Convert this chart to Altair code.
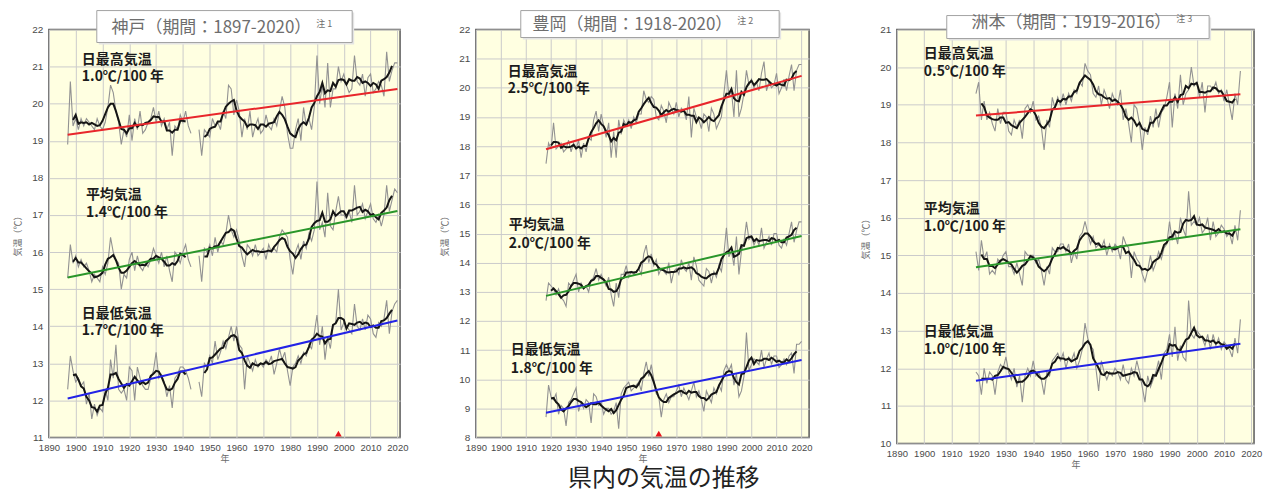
import altair as alt
import pandas as pd

JP = "Noto Sans CJK JP"

# ---------------- data (annual values) ----------------
kobe_start = 1897
kobe_max = [18.9, 20.6, 19.4,
            19.6, 19.3, 19.6, 19.4, 19.6, 19.5, 19.4, 19.3, 19.6, 19.4,
            19.3, 19.5, 19.9, 20.5, 20.3, 19.8, 19.5, 18.9, 19.3, 19.1,
            19.7, 19.0, 19.6, 19.3, 19.8, 19.2, 19.3, 19.5, 19.6, 19.9,
            19.5, 19.8, 19.4, 19.6, 19.3, 19.5, 18.6, 19.4, 19.3, 19.7,
            19.5, 19.8, 19.4, 19.2, None, None, 19.3, 18.6, 19.3, 19.2,
            19.1, 19.6, 19.4, 19.5, 19.3, 19.8, 19.6, 20.5, 20.4, 19.7,
            20.1, 19.8, 19.1, 19.6, 19.3, 19.8, 19.1, 19.4, 19.6, 19.2,
            19.3, 19.7, 19.4, 19.3, 19.6, 19.4, 19.8, 20.2, 19.9, 19.2,
            18.8, 18.8, 19.3, 19.6, 19.0, 19.9, 19.4, 19.6, 19.3, 19.9,
            21.3, 20.0, 20.5, 19.9, 21.1, 19.9, 20.4, 20.4, 21.0, 20.6,
            20.8, 20.5, 20.3, 20.4, 21.3, 20.6, 20.5, 20.8, 20.2, 20.7,
            20.8, 20.3, 20.4, 20.6, 20.5, 20.2, 21.4, 20.6, 20.9, 21.1,
            21.1]
kobe_mean = [15.3, 16.2, 15.7,
             15.9, 15.6, 15.8, 15.6, 15.7, 15.5, 15.2, 15.4, 15.3, 15.2,
             15.6, 15.4, 15.7, 16.4, 16.0, 15.8, 15.7, 15.0, 15.4, 15.3,
             15.8, 16.0, 15.5, 15.9, 15.6, 15.5, 15.7, 15.6, 15.8, 16.1,
             15.9, 15.7, 16.0, 15.6, 15.9, 15.5, 15.2, 16.0, 15.9, 15.7,
             16.0, 16.2, 15.8, 15.6, None, None, 15.9, 15.2, 16.1, 16.0,
             16.2, 15.9, 16.4, 16.0, 16.3, 16.2, 16.5, 17.0, 16.6, 16.4,
             16.6, 16.3, 15.9, 15.6, 16.2, 16.1, 15.9, 16.2, 15.9, 16.0,
             16.1, 15.8, 16.2, 16.0, 16.1, 16.0, 16.4, 16.6, 16.5, 16.4,
             15.8, 15.4, 16.0, 16.2, 15.8, 16.3, 16.1, 16.5, 16.3, 16.6,
             17.9, 16.6, 16.8, 16.4, 17.6, 16.7, 16.6, 17.1, 17.5, 17.0,
             17.0, 16.9, 17.1, 16.8, 17.8, 17.0, 17.1, 17.3, 16.9, 17.1,
             17.3, 16.9, 16.8, 17.0, 16.7, 17.0, 17.8, 17.1, 17.4, 17.7,
             17.6]
kobe_min = [12.3, 13.2, 12.8,
            12.5, 12.6, 12.4, 12.5, 11.9, 12.2, 11.5, 11.9, 11.6, 11.8,
            11.7, 12.3, 12.0, 13.1, 12.6, 13.5, 12.3, 12.2, 12.3, 12.0,
            12.9, 12.8, 12.0, 12.9, 12.6, 12.4, 12.3, 12.3, 12.6, 12.8,
            13.3, 12.6, 12.7, 12.5, 12.1, 12.4, 11.8, 12.6, 12.7, 12.9,
            12.9, 12.8, 12.6, 12.3, None, None, 12.5, 12.1, 13.0, 12.9,
            13.2, 13.0, 13.6, 13.1, 13.3, 13.6, 13.4, 13.7, 14.0, 13.6,
            14.0, 13.5, 13.4, 12.3, 13.2, 13.0, 12.8, 13.1, 12.9, 13.0,
            12.9, 13.1, 13.0, 13.2, 12.7, 13.0, 13.4, 13.1, 13.3, 12.8,
            12.4, 12.9, 13.0, 13.2, 13.0, 13.3, 13.2, 13.5, 13.4, 13.8,
            14.3, 13.5, 14.0, 13.1, 13.7, 13.4, 14.0, 14.1, 15.0, 13.9,
            14.1, 14.0, 13.9, 13.8, 14.6, 14.0, 13.9, 14.2, 13.9, 14.3,
            14.2, 13.8, 13.7, 14.1, 14.0, 14.2, 14.7, 13.8, 14.4, 14.6,
            14.7]

toyo_start = 1918
toyo_max = [17.4, 18.1,
            17.9, 18.8, 17.9, 18.0, 18.1, 17.8, 17.9, 18.2, 17.8, 18.1,
            17.9, 18.2, 17.6, 18.1, 17.8, 18.3, 18.2, 18.9, 19.2, 18.5,
            19.1, 18.7, 18.3, 18.8, 17.6, 18.5, 17.6, 18.9, 18.4, 18.9,
            18.7, 18.9, 18.6, 19.0, 18.8, 19.1, 19.1, 19.9, 19.6, 19.5,
            19.7, 19.6, 19.0, 18.9, 19.4, 19.2, 18.8, 19.5, 19.3, 19.1,
            19.5, 19.0, 19.3, 19.2, 18.9, 19.7, 18.3, 19.3, 19.0, 18.9,
            18.6, 19.1, 19.0, 18.5, 19.3, 19.1, 18.6, 18.8, 19.0, 19.8,
            20.6, 19.7, 19.9, 19.0, 20.6, 19.0, 19.3, 19.8, 20.6, 20.1,
            20.3, 20.0, 20.2, 19.9, 20.5, 20.9, 19.9, 20.2, 20.0, 20.1,
            20.5, 19.8, 20.0, 20.3, 19.9, 20.4, 20.8, 19.9, 20.6, 20.8,
            20.8]
toyo_mean = [12.7, 13.3,
             13.2, 13.1, 12.9, 13.1, 12.8, 12.7, 12.5, 13.3, 13.2, 13.4,
             13.6, 13.0, 13.3, 13.1, 13.2, 13.0, 13.4, 13.5, 13.8, 13.4,
             13.6, 13.4, 13.2, 13.5, 12.9, 12.5, 13.3, 12.8, 13.6, 13.6,
             13.9, 13.5, 13.7, 13.6, 13.7, 13.8, 13.6, 14.3, 14.6, 14.0,
             14.3, 13.9, 14.1, 13.6, 13.8, 13.7, 13.6, 14.0, 13.3, 13.7,
             13.8, 13.6, 14.1, 13.8, 13.7, 14.0, 13.4, 14.2, 13.9, 13.4,
             13.3, 13.2, 13.8, 13.7, 13.3, 13.7, 13.5, 13.9, 13.7, 14.3,
             15.2, 14.2, 14.4, 13.9, 14.9, 13.6, 14.4, 14.7, 15.4, 14.8,
             14.9, 14.6, 14.8, 14.6, 15.2, 14.5, 14.7, 14.9, 14.6, 15.0,
             15.0, 14.6, 14.5, 14.8, 14.6, 15.0, 15.4, 14.7, 15.1, 15.4,
             15.4]
toyo_min = [8.7, 9.8,
            9.4, 9.3, 9.5, 8.8, 9.1, 9.0, 8.4, 9.2, 9.3, 9.5,
            9.7, 8.9, 9.2, 9.0, 9.3, 9.2, 8.5, 9.5, 9.4, 9.1,
            9.2, 8.8, 9.0, 9.0, 8.8, 8.9, 9.2, 8.3, 9.5, 9.7,
            9.8, 9.9, 9.6, 9.7, 9.8, 9.9, 9.6, 10.2, 10.6, 10.1,
            10.5, 10.0, 9.5, 9.4, 8.7, 9.3, 9.5, 9.2, 9.4, 9.4,
            9.6, 9.8, 9.4, 9.7, 9.5, 9.3, 9.6, 9.9, 9.4, 9.6,
            9.3, 8.9, 9.6, 9.4, 9.2, 9.7, 9.5, 9.8, 9.6, 10.3,
            10.5, 10.3, 10.5, 9.8, 10.2, 9.4, 9.6, 10.1, 11.6, 10.3,
            10.5, 10.7, 10.6, 10.5, 11.0, 10.4, 10.7, 10.9, 10.5, 10.8,
            10.8, 10.4, 10.5, 10.7, 10.5, 10.8, 10.9, 10.2, 11.2, 11.2,
            11.3]

sumo_start = 1919
sumo_max = [19.3,
            19.6, 18.6, 19.1, 18.6, 18.8, 18.5, 18.3, 18.9, 18.5, 18.8,
            18.8, 18.3, 18.2, 18.6, 18.4, 18.6, 18.1, 18.9, 19.0, 18.8,
            19.1, 18.6, 18.7, 18.4, 17.8, 18.6, 18.4, 19.2, 18.9, 19.2,
            19.0, 19.3, 19.0, 19.3, 19.1, 19.4, 19.3, 19.6, 19.5, 20.1,
            19.9, 19.8, 19.3, 19.2, 19.5, 19.0, 19.4, 19.2, 18.9, 19.3,
            19.1, 19.0, 19.4, 18.6, 18.9, 18.5, 18.0, 19.0, 18.9, 18.5,
            17.8, 18.4, 18.2, 18.7, 18.4, 18.9, 18.4, 18.8, 18.9, 19.2,
            19.6, 18.4, 19.3, 18.9, 19.8, 19.0, 19.3, 19.4, 20.0, 19.5,
            19.6, 19.2, 19.6, 18.8, 19.5, 19.5, 19.4, 19.6, 19.3, 19.4,
            19.1, 19.4, 19.0, 18.6, 19.3, 19.0, 19.9]
sumo_mean = [15.1,
             14.6, 15.4, 14.9, 15.1, 14.5, 14.6, 14.5, 14.9, 14.8, 15.0,
             15.1, 14.7, 14.7, 14.5, 14.8, 14.5, 14.2, 15.1, 15.0, 15.0,
             15.0, 14.8, 14.9, 14.6, 14.2, 14.7, 14.5, 15.2, 15.1, 15.1,
             15.3, 15.3, 15.1, 15.3, 14.8, 15.1, 14.9, 15.5, 15.6, 15.9,
             15.6, 15.3, 15.5, 15.2, 15.3, 15.2, 15.4, 15.0, 15.3, 15.1,
             15.3, 15.2, 14.9, 15.5, 15.3, 15.2, 14.4, 15.1, 14.9, 14.8,
             14.5, 14.3, 14.6, 15.0, 14.6, 14.8, 15.1, 14.9, 15.2, 15.3,
             15.9, 15.4, 15.6, 15.3, 16.0, 15.7, 15.5, 16.7, 15.8, 15.9,
             15.8, 16.0, 15.6, 15.7, 16.0, 15.4, 15.9, 15.5, 15.6, 15.8,
             15.7, 15.5, 15.6, 15.3, 15.8, 15.4, 16.2]
sumo_min = [11.9,
            11.8, 11.3, 12.0, 11.6, 11.9, 11.8, 11.3, 11.9, 12.1, 12.0,
            12.3, 11.9, 11.7, 12.0, 11.5, 11.8, 11.1, 11.8, 12.0, 11.8,
            12.2, 11.8, 11.9, 11.7, 11.3, 11.9, 11.8, 12.2, 12.3, 12.4,
            12.2, 12.4, 12.0, 12.3, 12.2, 12.4, 12.0, 12.2, 12.5, 13.2,
            12.8, 12.6, 12.5, 12.0, 11.4, 12.2, 11.9, 11.7, 11.9, 11.8,
            12.0, 11.9, 11.7, 12.1, 11.7, 11.6, 12.0, 11.8, 12.2, 11.9,
            11.5, 11.1, 11.8, 11.5, 11.7, 11.9, 12.2, 11.7, 12.4, 12.5,
            12.9, 12.3, 13.1, 12.2, 12.6, 12.3, 12.2, 13.8, 12.9, 12.8,
            13.0, 12.9, 12.8, 12.6, 12.9, 12.5, 12.9, 12.6, 12.8, 12.5,
            12.7, 12.6, 12.5, 12.3, 12.8, 12.4, 13.3]

series_keys = ["max", "mean", "min"]
series_names = ["日最高気温", "平均気温", "日最低気温"]
kobe_rates = ["1.0℃/100 年", "1.4℃/100 年", "1.7℃/100 年"]
toyo_rates = ["2.5℃/100 年", "2.0℃/100 年", "1.8℃/100 年"]
sumo_rates = ["0.5℃/100 年", "1.0℃/100 年", "1.0℃/100 年"]
titles = ["神戸（期間：1897-2020）", "豊岡（期間：1918-2020）", "洲本（期間：1919-2016）"]
notes = ["注 1", "注 2", "注 3"]
marker_years = [1998, 1963]


def long_df(start, lists):
    rows = []
    for key, vals in zip(series_keys, lists):
        for i, v in enumerate(vals):
            rows.append({"year": start + i, "series": key, "value": v})
    return pd.DataFrame(rows)


def ann_df(xs, ys, rates):
    labels, ax, ay = [], [], []
    for k in range(3):
        labels += [series_names[k], rates[k]]
        ax += [xs[k], xs[k]]
        ay += [ys[2 * k], ys[2 * k + 1]]
    return pd.DataFrame({"x": ax, "y": ay, "label": labels})


def panel(df, xmax, ymin, ymax, w, h, anns, box, ttl, note, tpos, marker=None, extra_right=0):
    xsc = alt.Scale(domain=[1890, xmax], nice=False, zero=False)
    ysc = alt.Scale(domain=[ymin, ymax], nice=False, zero=False)
    xax = alt.Axis(values=list(range(1890, 2021, 10)), format="d", title="年",
                   labelPadding=5, titlePadding=3, labelOverlap=False,
                   labelFlush=False, labelFontSize=9.5)
    yax = alt.Axis(values=list(range(ymin, ymax + 1)), title="気温（℃）",
                   labelPadding=6, titlePadding=9, labelOverlap=False,
                   labelFlush=False)

    def X(f):
        return alt.X(f, scale=xsc, axis=xax)

    def Y(f):
        return alt.Y(f, scale=ysc, axis=yax)

    base = alt.Chart(df)
    gray = base.mark_line(color="#929292", strokeWidth=1.1).encode(
        x=X("year:Q"), y=Y("value:Q"), detail="series:N")
    black = base.transform_window(
        ma="mean(value)", n="valid(value)", frame=[-2, 2], groupby=["series"],
        sort=[alt.SortField("year", order="ascending")]
    ).transform_calculate(
        ma5="datum.n == 5 ? datum.ma : null"
    ).mark_line(color="#151515", strokeWidth=2).encode(
        x=X("year:Q"), y=Y("ma5:Q"), detail="series:N")
    trend = base.transform_regression(
        "year", "value", groupby=["series"]
    ).mark_line(strokeWidth=2).encode(
        x=X("year:Q"), y=Y("value:Q"),
        color=alt.Color("series:N", legend=None,
                        scale=alt.Scale(domain=series_keys,
                                        range=["#e8262b", "#2a962a", "#2323e6"])))
    text = alt.Chart(anns).mark_text(
        align="left", baseline="middle", fontSize=14, fontWeight="bold",
        font=JP, color="#1c1c1c").encode(x=X("x:Q"), y=Y("y:Q"), text="label:N")

    one = pd.DataFrame({"t": [ttl]})
    shadow = alt.Chart(one).mark_rect(fill="#e4e4e4").encode(
        x=alt.value(box[0] + 2), x2=alt.value(box[1] + 2),
        y=alt.value(box[2] + 2), y2=alt.value(box[3] + 2))
    rect = alt.Chart(one).mark_rect(fill="white", stroke="#a3a3a3", strokeWidth=1).encode(
        x=alt.value(box[0]), x2=alt.value(box[1]), y=alt.value(box[2]), y2=alt.value(box[3]))
    ttext = alt.Chart(one).mark_text(
        align="right", baseline="middle", fontSize=17, font=JP, color="#6e6e6e").encode(
        x=alt.value(tpos[0]), y=alt.value(tpos[1]), text="t:N")
    ntext = alt.Chart(pd.DataFrame({"t": [note]})).mark_text(
        align="left", baseline="middle", fontSize=9, font=JP, color="#6e6e6e").encode(
        x=alt.value(tpos[0] + 5), y=alt.value(tpos[1] - 4), text="t:N")

    layers = [gray, black, trend, text]
    if marker is not None:
        mk = alt.Chart(pd.DataFrame({"year": [marker], "v": [ymin]})).mark_point(
            shape="triangle-up", filled=True, color="#e8141c", opacity=1,
            size=45, yOffset=-4).encode(x=X("year:Q"), y=Y("v:Q"))
        layers.append(mk)
    layers += [shadow, rect, ttext, ntext]
    if extra_right:
        spacer = alt.Chart(one).mark_rect(opacity=0).encode(
            x=alt.value(w), x2=alt.value(w + extra_right), y=alt.value(0), y2=alt.value(1))
        layers.append(spacer)
    return alt.layer(*layers).properties(width=w, height=h)


kobe_df = long_df(kobe_start, [kobe_max, kobe_mean, kobe_min])
toyo_df = long_df(toyo_start, [toyo_max, toyo_mean, toyo_min])
sumo_df = long_df(sumo_start, [sumo_max, sumo_mean, sumo_min])

p1 = panel(kobe_df, 2021, 11, 22, 352, 409,
           ann_df([1902.3, 1903.8, 1902.3], [21.19, 20.71, 17.54, 17.05, 14.33, 13.88], kobe_rates),
           (48, 304, -19, 13), titles[0], notes[0], (263, -2), marker_years[0])
p2 = panel(toyo_df, 2023, 8, 22, 334, 409,
           ann_df([1902.7, 1903.1, 1903.9], [20.53, 19.95, 15.29, 14.64, 11.01, 10.36], toyo_rates),
           (45, 304, -19, 8), titles[1], notes[1], (257, -5), marker_years[1], extra_right=20)
p3 = panel(sumo_df, 2021, 10, 21, 358, 415,
           ann_df([1899.9, 1899.9, 1899.9], [20.34, 19.86, 16.23, 15.75, 12.97, 12.49], sumo_rates),
           (50, 313, -14, 9), titles[2], notes[2], (275, -7))

chart = alt.hconcat(p1, p2, p3, spacing=31).properties(
    title=alt.TitleParams(text="県内の気温の推移", orient="bottom", anchor="middle",
                          fontSize=24, font=JP, fontWeight="normal", color="#222222",
                          offset=-4, dx=26),
    padding={"left": 5, "top": 0, "right": 5, "bottom": 0},
).configure_view(
    fill="#FFFFE1", stroke="#5a5a5a", strokeWidth=1.5
).configure_axis(
    domain=False, ticks=False, grid=True, gridColor="#cbcbcb", gridWidth=1,
    labelFont="Liberation Sans", labelFontSize=10, labelColor="#4a4a4a",
    titleFont=JP, titleFontSize=9, titleColor="#6a6a6a", titleFontWeight="normal"
)

chart.save("out.html", embed_options={"renderer": "svg", "actions": False})
